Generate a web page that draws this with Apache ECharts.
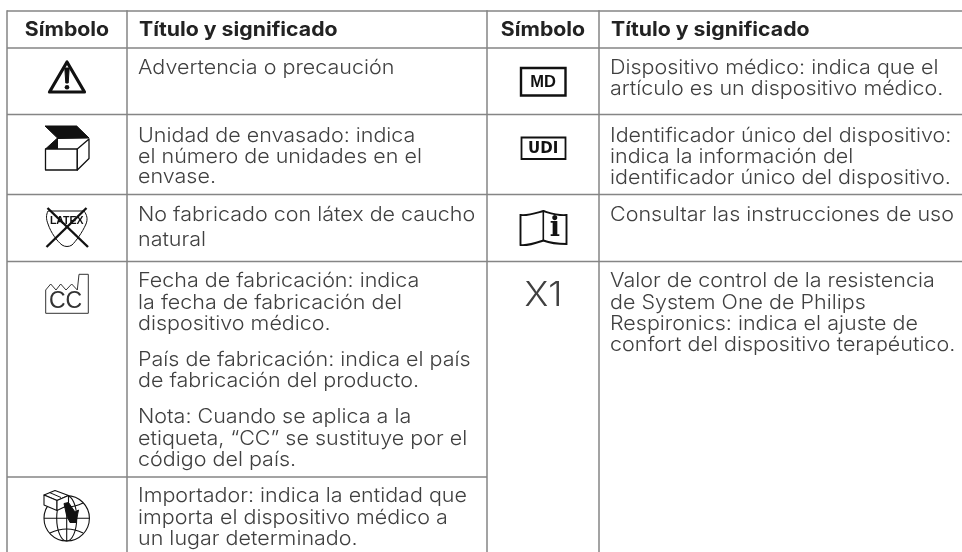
<!DOCTYPE html>
<html><head><meta charset="utf-8">
<script src="https://cdn.jsdelivr.net/npm/echarts@6/dist/echarts.min.js"></script>
<style>html,body{margin:0;padding:0;background:#fff}#c{width:962px;height:552px}</style></head>
<body><div id="c"></div>
<script>
var headers = ["Símbolo", "Título y significado"];
var leftRows = [
  ["Advertencia o precaución"],
  ["Unidad de envasado: indica", "el número de unidades en el", "envase."],
  ["No fabricado con látex de caucho", "natural"],
  ["Fecha de fabricación: indica", "la fecha de fabricación del", "dispositivo médico.",
   "País de fabricación: indica el país", "de fabricación del producto.",
   "Nota: Cuando se aplica a la", "etiqueta, “CC” se sustituye por el", "código del país."],
  ["Importador: indica la entidad que", "importa el dispositivo médico a", "un lugar determinado."]
];
var rightRows = [
  ["Dispositivo médico: indica que el", "artículo es un dispositivo médico."],
  ["Identificador único del dispositivo:", "indica la información del", "identificador único del dispositivo."],
  ["Consultar las instrucciones de uso"],
  ["Valor de control de la resistencia", "de System One de Philips", "Respironics: indica el ajuste de", "confort del dispositivo terapéutico."]
];
var symbolLabels = {cc: "CC", latex: "LATEX", md: "MD", udi: "UDI", info: "i", x1: "X1"};

/* layout */
var leftBase = [[75],[142.7,163.3,184],[222,246.7],[288,309.5,331,366.7,387.7,423.7,445.3,466.7],[502.7,524.3,546]];
var rightBase = [[75,96],[142.7,163.7,184.5],[222],[288,309.3,330.3,352]];
var RULE = "#858585", BODY = "#404040", HEAD = "#222222", INK = "#111111";
var BODYFONT = {f:'300 20px Inter', s:20, k:0.84, sx:1.075}, HEADFONT = {f:'700 19.5px Inter', s:19.5, k:0.89, sx:1.09};
var SANS = 0.847;

var g = [], nPath = 0;
function line(x1,y1,x2,y2,c,w){g.push({type:'line',shape:{x1:x1,y1:y1,x2:x2,y2:y2},style:{stroke:c||RULE,lineWidth:w||1.5}});}
function text(t,x,y,F,fill,align){g.push({type:'text',x:x,y:y-F.s*F.k,scaleX:F.sx||1,style:{text:t,font:F.f,fill:fill,align:align||'left',verticalAlign:'top'}});}
function poly(pts,o){g.push({type:o.fill?'polygon':'polyline',shape:{points:pts},style:Object.assign({stroke:INK,lineWidth:1,fill:o.fill||null,lineJoin:'round'},o)});}
function path(d,o){
  var name='icon'+(nPath++);
  echarts.graphic.registerShape(name, echarts.graphic.extendPath(d,{}));
  g.push({type:name,style:{stroke:o.stroke||INK,lineWidth:o.lw||1,fill:o.fill||'none'}});
}

// rules
line(7,11,962,11);
line(7,48,962,48);
[114.5,194.5,261.5].forEach(function(y){line(7,y,962,y);});
line(7,477,487,477);
[7,127,487,599].forEach(function(x){line(x,10.3,x,552);});

// header
[[67,139],[543,611]].forEach(function(p){
  text(headers[0],p[0],37,HEADFONT,HEAD,'center');
  text(headers[1],p[1],37,HEADFONT,HEAD,'left');
});
// body
function body(rows,base,x){rows.forEach(function(r,i){r.forEach(function(s,j){text(s,x,base[i][j],BODYFONT,BODY);});});}
body(leftRows,leftBase,138);
body(rightRows,rightBase,610);

// warning
poly([[67,62],[49.5,92],[84.5,92]],{fill:'#fff',lineWidth:3.2,stroke:INK,lineJoin:'round'});
poly([[64.8,68],[69.2,68],[68.2,83],[65.8,83]],{fill:INK,stroke:INK});
g.push({type:'circle',shape:{cx:67,cy:87.3,r:2.3},style:{fill:INK}});

// box
poly([[45,126],[76.7,126],[89,138],[58,138.5]],{fill:INK,stroke:INK});
poly([[45.5,149],[57.5,138],[57.5,149]],{fill:INK,stroke:INK});
poly([[45.5,149],[77.3,149],[77.3,170],[45.5,170]],{fill:'#fff',stroke:INK,lineWidth:1.3});
poly([[77.3,149],[89,139],[89,158.5],[77.3,170]],{fill:'#fff',stroke:INK,lineWidth:1.3});

// latex
path('M48 211 L84 211 C87 215 88 219 86 224 C82 233 76 241 72 245 C69 247 65 247 62 245 C57 241 51 233 48 224 C46 219 46 215 48 211 Z',{lw:1});
text(symbolLabels.latex,66.7,225,{f:'700 10.5px "Liberation Sans"',s:10.5,k:SANS},INK,'center');
line(47.5,208,88,247,INK,2.4);
line(86.5,208,46.5,247,INK,2.4);

// factory CC
poly([[45.7,313.3],[45.7,290],[50.7,284],[56,290],[60.7,284],[66,290],[71.7,284],[77.3,290],[79,274.3],[88.3,274.3],[88.3,313.3],[45.7,313.3]],{stroke:'#333',lineWidth:1});
text(symbolLabels.cc,65.5,310,{f:'400 23px "Liberation Sans"',s:23,k:SANS},'#333','center');

// importer
g.push({type:'circle',shape:{cx:66.7,cy:518.3,r:22.7},style:{stroke:INK,lineWidth:1.1,fill:'#fff'}});
g.push({type:'ellipse',shape:{cx:66.7,cy:518.3,rx:10,ry:22.7},style:{stroke:INK,lineWidth:1.1,fill:'none'}});
line(44,518.3,89.4,518.3,INK,1.1);
line(66.7,495.6,66.7,541,INK,1.1);
path('M50 503 Q67 511 83 503',{lw:1.1});
path('M50 533 Q67 525 83 533',{lw:1.1});
poly([[44,495],[55,490.5],[68.5,495.5],[57,500.5]],{fill:'#fff',lineWidth:1.1});
poly([[44,495],[57,500.5],[57,510.5],[44,505]],{fill:'#fff',lineWidth:1.1});
poly([[57,500.5],[68.5,495.5],[68.5,505],[57,510.5]],{fill:'#fff',lineWidth:1.1});
poly([[49.5,492.5],[61,497.5]],{lineWidth:1});
poly([[64,503.5],[68.5,502.5],[75,512],[78.5,510],[76,522.5],[70,522.5],[66.5,515]],{fill:INK,stroke:INK});

// MD
g.push({type:'rect',shape:{x:521,y:68,width:44.5,height:27.5},style:{stroke:INK,lineWidth:2.4,fill:'#fff'}});
text(symbolLabels.md,543.2,88,{f:'700 16.5px "Liberation Sans"',s:16.5,k:SANS},INK,'center');
// UDI
g.push({type:'rect',shape:{x:521.5,y:137.5,width:44,height:21.5},style:{stroke:INK,lineWidth:1.8,fill:'#fff'}});
text(symbolLabels.udi,543.2,154,{f:'700 15px "DejaVu Sans"',s:15,k:SANS},INK,'center');
// book
path('M520.5 215 C528 216 536 213 543.3 211 C550 213 558 216 566.5 215 L566.5 244 C558 244 550 243 543.3 240.5 C536 243 528 246 520.5 245 Z',{lw:1.9});
line(543.3,211,543.3,240.5,INK,1.6);
text(symbolLabels.info,555,238,{f:'700 27px "DejaVu Serif"',s:27,k:SANS},INK,'center');
// X1
text(symbolLabels.x1,543.5,307.7,{f:'300 34px Inter',s:34,k:0.86,sx:1.06},BODY,'center');

var chart = echarts.init(document.getElementById('c'),null,{renderer:'canvas'});
chart.setOption({animation:false,backgroundColor:'#fff',graphic:{elements:g}});
</script></body></html>
